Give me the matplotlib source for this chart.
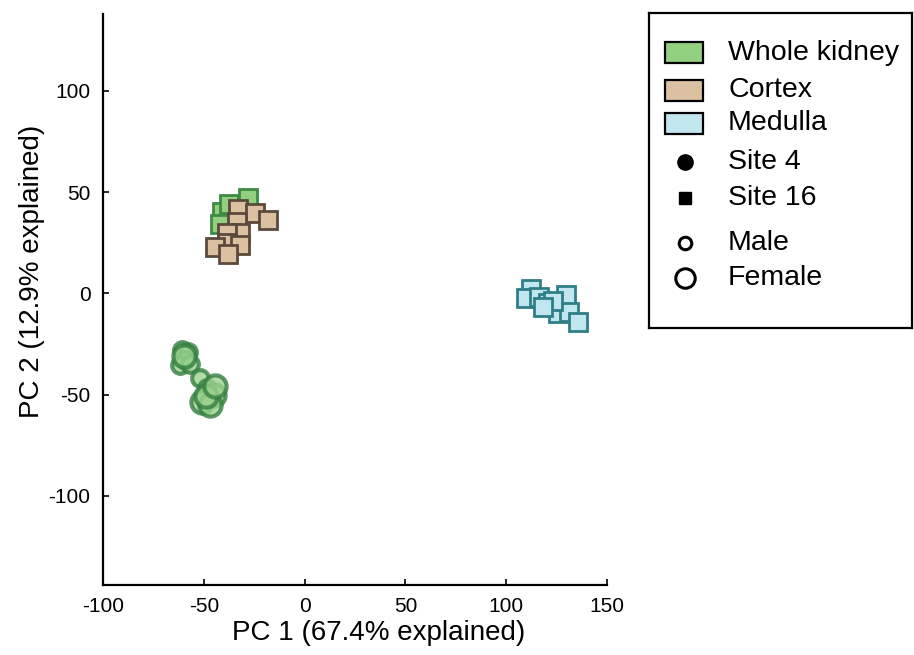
import matplotlib
matplotlib.use('Agg')
import matplotlib.pyplot as plt
from matplotlib.patches import Rectangle

plt.rcParams['font.family'] = ['Liberation Sans', 'DejaVu Sans']
plt.rcParams['axes.unicode_minus'] = False

# PCA scores
# whole kidney, site 16 (squares, mostly hidden behind cortex)
wk16_x = [-27.9, -41.0, -42.0, -37.5, -35.0]
wk16_y = [46.9, 40.0, 34.5, 44.0, 30.0]
# whole kidney, site 4 (circles), male / female
wk4_male_x = [-60.9, -57.9, -59.4, -61.9, -56.9, -52.0, -48.5]
wk4_male_y = [-28.1, -29.1, -33.1, -35.5, -35.0, -41.9, -46.9]
wk4_female_x = [-59.9, -45.0, -51.0, -47.0, -49.0, -44.6]
wk4_female_y = [-31.1, -50.3, -53.8, -55.3, -50.8, -45.9]
# cortex, site 16
cortex_x = [-32.9, -24.8, -18.0, -33.7, -32.0, -38.5, -38.5, -44.5, -32.0, -37.8]
cortex_y = [41.9, 39.5, 36.5, 35.2, 29.6, 30.0, 25.0, 22.9, 23.7, 19.7]
# medulla, site 16
medulla_x = [112.4, 109.9, 116.3, 120.6, 129.7, 125.6, 131.2, 135.5, 123.1, 118.1]
medulla_y = [2.3, -2.5, -1.8, -4.9, -1.0, -9.9, -9.3, -14.2, -3.5, -6.8]

tissues = ['Whole kidney', 'Cortex', 'Medulla']
tissue_fill = ['#92d07f', '#dcc0a2', '#c2e6f0']
tissue_edge = ['#3d8b45', '#5b4a3c', '#2f7f86']
other_labels = ['Site 4', 'Site 16', 'Male', 'Female']

fig = plt.figure(figsize=(9.14, 6.55), dpi=100)
W, H = 914, 655
ax = fig.add_axes([103 / W, 1 - 585 / H, 504 / W, 571 / H])

sq = 12.5
ax.plot(wk16_x, wk16_y, 's', ms=sq, mfc=tissue_fill[0], mec=tissue_edge[0], mew=2, ls='none')
ax.plot(cortex_x, cortex_y, 's', ms=sq, mfc=tissue_fill[1], mec=tissue_edge[1], mew=2, ls='none')
ax.plot(wk4_male_x, wk4_male_y, 'o', ms=12, mfc='#9cd38f', mec='#347f42', mew=3,
        ls='none', alpha=0.8)
ax.plot(wk4_female_x, wk4_female_y, 'o', ms=16, mfc='#9cd38f', mec='#347f42', mew=3,
        ls='none', alpha=0.8)
ax.plot(medulla_x, medulla_y, 's', ms=sq, mfc=tissue_fill[2], mec=tissue_edge[2], mew=2, ls='none')

ax.set_xlim(-100, 150)
ax.set_ylim(-144, 138)
ax.set_xticks([-100, -50, 0, 50, 100, 150])
ax.set_yticks([-100, -50, 0, 50, 100])
ax.tick_params(direction='in', length=4, width=1.2, labelsize=15, pad=9)
for s in ['top', 'right']:
    ax.spines[s].set_visible(False)
for s in ['left', 'bottom']:
    ax.spines[s].set_linewidth(1.6)

ax.set_xlabel('PC 1 (67.4% explained)', fontsize=20)
ax.set_ylabel('PC 2 (12.9% explained)', fontsize=20)
ax.xaxis.set_label_coords(0.546, -0.062)
ax.yaxis.set_label_coords(-0.115, 0.55)

# legend box drawn by hand so the rows sit where they do in the original
lax = fig.add_axes([649 / W, 1 - 328 / H, 263 / W, 315 / H])
lax.set_xlim(0, 263)
lax.set_ylim(315, 0)
lax.set_xticks([])
lax.set_yticks([])
for s in lax.spines.values():
    s.set_linewidth(1.6)
    s.set_color('black')

rows = [39.5, 77, 110.3, 148.7, 185.3, 230, 265]
for i, name in enumerate(tissues):
    lax.add_patch(Rectangle((16, rows[i] - 10.5), 38, 21, facecolor=tissue_fill[i],
                            edgecolor='black', linewidth=1.6))
    lax.text(79, rows[i], name, fontsize=20.5, va='center')
marker_style = [dict(marker='o', ms=11, mfc='black', mec='black'),
                dict(marker='s', ms=9, mfc='black', mec='black'),
                dict(marker='o', ms=9, mfc='white', mec='black', mew=2.2),
                dict(marker='o', ms=14, mfc='white', mec='black', mew=2.2)]
for j, name in enumerate(other_labels):
    y = rows[3 + j]
    lax.plot([36], [y], ls='none', **marker_style[j])
    lax.text(79, y, name, fontsize=20.5, va='center')

fig.savefig('out.png', dpi=100)
